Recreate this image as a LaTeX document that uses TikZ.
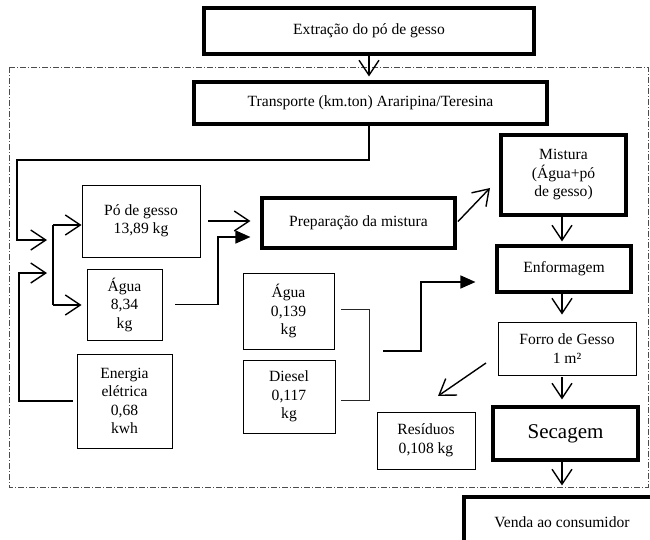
\documentclass[tikz,border=0pt]{standalone}
\usepackage{fontspec}
\setmainfont{Liberation Serif}
\usetikzlibrary{arrows.meta}
\begin{document}
\begin{tikzpicture}[x=1pt,y=-1pt,
  every node/.style={font=\fontsize{15.6}{18.5}\selectfont, align=center, inner sep=0pt},
  thickbox/.style={draw, line width=3.1pt, rectangle},
  thinbox/.style={draw, line width=0.9pt, rectangle},
  conn/.style={line width=1.4pt},
  openarrow/.style={conn, -{Straight Barb[length=15pt,width=20pt,line width=1.4pt]}},
  fillarrow/.style={conn, -{Triangle[length=15pt,width=13pt]}},
  bracket/.style={line width=1pt, black!85},
  frame/.style={line width=0.8pt, black!70, dash pattern=on 6pt off 2pt on 1pt off 2pt}
]
\useasboundingbox (0,0) rectangle (650,540);

% dash-dot frame
\draw[frame] (9,67) rectangle (648,487);

% boxes
\node[thickbox, minimum width=330pt, minimum height=46pt] (ext) at (369,31) {Extração do pó de gesso};
\node[thickbox, minimum width=353pt, minimum height=42pt] (trans) at (370.5,103) {Transporte (km.ton) Araripina/Teresina};
\node[thinbox, minimum width=118pt, minimum height=72pt] (pog) at (141,221) {Pó de gesso\\13,89 kg};
\node[thinbox, minimum width=75pt, minimum height=71pt] (agua1) at (124.5,304.5) {Água\\8,34\\kg};
\node[thinbox, minimum width=95pt, minimum height=94pt] (energ) at (124.5,401) {Energia\\elétrica\\0,68\\kwh};
\node[thickbox, minimum width=193pt, minimum height=50pt] (prep) at (358.5,223) {Preparação da mistura};
\node[thinbox, minimum width=91pt, minimum height=76pt] (agua2) at (288.5,311) {Água\\0,139\\kg};
\node[thinbox, minimum width=92pt, minimum height=73pt] (diesel) at (289,396.5) {Diesel\\0,117\\kg};
\node[thickbox, minimum width=125pt, minimum height=80pt] (mist) at (563.5,175) {Mistura\\(Água+pó\\de gesso)};
\node[thickbox, minimum width=134pt, minimum height=46pt] (enf) at (564,269) {Enformagem};
\node[thinbox, minimum width=138pt, minimum height=53pt] (forro) at (567,348.5) {Forro de Gesso\\1 m²};
\node[thinbox, minimum width=98pt, minimum height=57pt] (resid) at (426,440.5) {Resíduos\\0,108 kg};
\node[thickbox, minimum width=145pt, minimum height=53pt, font=\fontsize{21}{24}\selectfont] (sec) at (565.5,433.5) {Secagem};
\node[thickbox, minimum width=196pt, minimum height=51pt] (venda) at (562,522.5) {Venda ao consumidor};

% helper coordinates
\coordinate (col) at (562,0);
\coordinate (colT) at (369,0);
\coordinate (jA) at (17,160);
\coordinate (tipA) at (47,240);
\coordinate (jB) at (19,273);
\coordinate (tipB) at (47,273);
\coordinate (br1) at (53,225);
\coordinate (br2) at (53,305);
\coordinate (kA) at (218,237);
\coordinate (bk1) at (369,309);
\coordinate (bk2) at (369,400);
\coordinate (bk3) at (383,351);
\coordinate (kB) at (421,282);
\coordinate (tipM) at (490,188);
\coordinate (fr1) at (486,363);
\coordinate (tipR) at (438,396);

% vertical main chain
\draw[openarrow, shorten >=4pt] (ext.south -| colT) -- (trans.north -| colT);
\draw[openarrow, shorten >=3pt] (mist.south -| col) -- (enf.north -| col);
\draw[openarrow, shorten >=7pt] (enf.south -| col) -- (forro.north -| col);
\draw[openarrow, shorten <=2pt, shorten >=6pt] (forro.south -| col) -- (sec.north -| col);
\draw[openarrow, shorten >=10pt] (sec.south -| col) -- (venda.north -| col);

% left feed lines
\draw[openarrow] (trans.south -| colT) -- (colT |- jA) -- (jA) -- (jA |- tipA) -- (tipA);
\draw[openarrow, shorten <=4pt] (energ.west) -| (jB) -- (tipB);
\draw[conn] (br1) -- (br2);
\draw[openarrow] (br1) -- (pog.west |- br1);
\draw[openarrow, shorten >=5pt] (br2) -- (agua1.west |- br2);

% into preparation
\draw[openarrow, shorten <=8pt, shorten >=10pt] (pog.east) -- (pog.east -| prep.west);
\draw[fillarrow, shorten >=10pt] ([xshift=13pt]agua1.east) -| (kA) -- (kA -| prep.west);
\draw[openarrow, shorten <=2pt] (prep.east) -- (tipM);

% water / diesel bracket
\draw[bracket] ([xshift=7pt]agua2.east |- bk1) -- (bk1) -- (bk2) -- ([xshift=6pt]diesel.east |- bk2);
\draw[fillarrow, shorten >=20pt] (bk3) -| (kB) -- (kB -| enf.west);

% residues
\draw[openarrow] (fr1) -- (tipR);
\end{tikzpicture}
\end{document}
